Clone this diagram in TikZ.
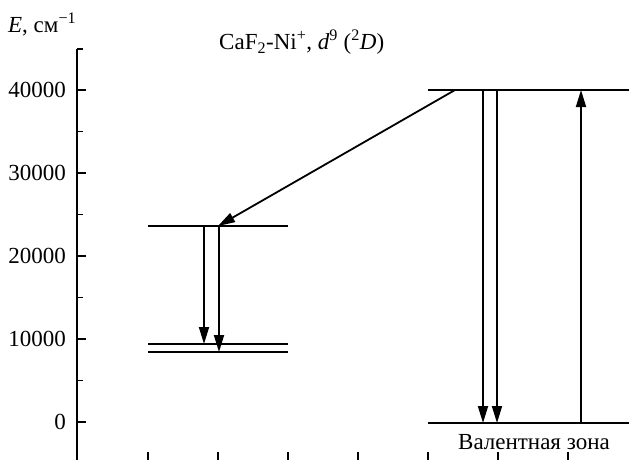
\documentclass[tikz,border=0pt]{standalone}
\usepackage{fontspec}
\setmainfont{Liberation Serif}
\usetikzlibrary{arrows.meta}

\begin{document}
\begin{tikzpicture}[x=1pt, y=-1pt,
  level/.style={line width=2pt},
  trans/.style={line width=1.8pt, -{Triangle[length=17pt, width=10pt]}},
  axis/.style={line width=1.5pt},
  lbl/.style={font=\fontsize{23}{27}\selectfont, inner sep=0pt}]
\useasboundingbox (0,0) rectangle (629,460);

% energy axis
\draw[axis] (77,49) -- (77,460);
\foreach \e [count=\i from 0] in {0,10000,20000,30000,40000} {
  \pgfmathsetmacro\yy{422-83*\i}
  \draw[axis] (77,\yy) -- (86,\yy);
  \node[lbl, anchor=east] (t\i) at (66,\yy) {\e};
}
\foreach \yy in {49,131.5,214.5,297.5,380.5}
  \draw[axis] (77,\yy) -- (83,\yy);
\foreach \xx in {148,218,...,568}
  \draw[axis] (\xx,452) -- (\xx,460);

\node[lbl, anchor=base west] (elabel) at (8,33) {\textit{E}, см\textsuperscript{−1}};
\node[lbl, anchor=base west] (title) at (219,50)
  {CaF\textsubscript{2}-Ni\textsuperscript{+}, \textit{d}\textsuperscript{9} (\textsuperscript{2}\textit{D})};

% levels
\coordinate (a1) at (148,226);  \coordinate (a2) at (288,226);
\coordinate (b1) at (148,344);  \coordinate (b2) at (288,344);
\coordinate (c1) at (148,352);  \coordinate (c2) at (288,352);
\coordinate (top1) at (428,90); \coordinate (top2) at (629,90);
\coordinate (vb1) at (428,423); \coordinate (vb2) at (629,423);
\draw[level] (a1) -- (a2);
\draw[level] (b1) -- (b2);
\draw[level] (c1) -- (c2);
\draw[level] (top1) -- (top2);
\draw[level] (vb1) -- (vb2);
\node[lbl, anchor=base] (vzone) at (534,449) {Валентная зона};

% transitions
\draw[trans] (455,90) -- (218,226);
\draw[trans] (204,226) -- (204,344);
\draw[trans] (219,226) -- (219,352);
\draw[trans] (483,90) -- (483,423);
\draw[trans] (497,90) -- (497,423);
\draw[trans] (581,423) -- (581,90);
\end{tikzpicture}
\end{document}
